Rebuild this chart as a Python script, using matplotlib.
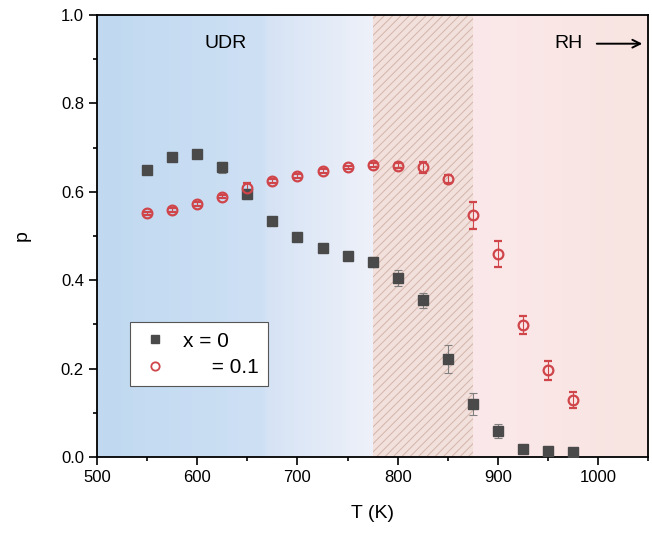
import matplotlib
matplotlib.use('Agg')

import matplotlib.pyplot as plt
import numpy as np
from matplotlib.colors import LinearSegmentedColormap
from matplotlib.lines import Line2D
from matplotlib.ticker import MultipleLocator

plt.rcParams['font.family'] = ['Liberation Sans', 'DejaVu Sans']
plt.rcParams['hatch.linewidth'] = 0.7

# data
temps = [550, 575, 600, 625, 650, 675, 700, 725, 750, 775, 800, 825, 850, 875, 900, 925, 950, 975]
p_x0 = [0.649, 0.678, 0.686, 0.655, 0.595, 0.535, 0.497, 0.472, 0.454, 0.441, 0.406, 0.355,
        0.222, 0.121, 0.060, 0.018, 0.014, 0.011]
err_x0 = [0.005, 0.005, 0.005, 0.012, 0.012, 0.005, 0.005, 0.005, 0.005, 0.012, 0.018, 0.017,
          0.032, 0.025, 0.016, 0.008, 0.006, 0.006]
p_x01 = [0.551, 0.559, 0.572, 0.589, 0.608, 0.625, 0.636, 0.647, 0.655, 0.661, 0.659, 0.655,
         0.629, 0.547, 0.459, 0.298, 0.196, 0.130]
err_x01 = [0.004, 0.004, 0.004, 0.004, 0.012, 0.004, 0.004, 0.004, 0.004, 0.004, 0.006, 0.012,
           0.010, 0.030, 0.030, 0.020, 0.022, 0.018]
labels = ['x = 0', '     = 0.1']

sq_color = '#4a4a4a'
red = '#d0454a'

fig = plt.figure(figsize=(6.52, 5.34), dpi=100)
ax = fig.add_axes([0.149, 0.144, 0.845, 0.828])

# background shading
blue = LinearSegmentedColormap.from_list(
    'b', [(0, '#c0d9f0'), (0.6, '#cee0f4'), (0.62, '#d6e3f5'), (1, '#eef1f9')])
grad = np.linspace(0, 1, 300).reshape(1, -1)
ax.imshow(grad, extent=[500, 775, 0, 1], aspect='auto', cmap=blue, zorder=0)
ax.axvspan(775, 875, facecolor='#f2e0dc', edgecolor='#d3b5aa', hatch='////', lw=0, zorder=0)
pink = LinearSegmentedColormap.from_list('p', ['#fbe8ea', '#f8e4e0'])
ax.imshow(grad, extent=[875, 1050, 0, 1], aspect='auto', cmap=pink, zorder=0)

ax.errorbar(temps, p_x0, yerr=err_x0, fmt='s', color=sq_color, ms=7, ecolor='#808080',
            elinewidth=0.8, capsize=3, capthick=0.8, zorder=3)
ax.errorbar(temps, p_x01, yerr=err_x01, fmt='o', mfc='none', mec=red, mew=1.6, ms=7,
            ecolor=red, elinewidth=0.8, capsize=3, capthick=0.8, zorder=3)

ax.set_xlim(500, 1050)
ax.set_ylim(0, 1.0)
ax.xaxis.set_major_locator(MultipleLocator(100))
ax.xaxis.set_minor_locator(MultipleLocator(50))
ax.yaxis.set_major_locator(MultipleLocator(0.2))
ax.yaxis.set_minor_locator(MultipleLocator(0.1))
ax.yaxis.set_major_formatter(matplotlib.ticker.FormatStrFormatter('%.1f'))
ax.tick_params(which='major', direction='out', length=6, width=1.2, labelsize=12)
ax.tick_params(which='minor', direction='out', length=3, width=1.2)
for s in ax.spines.values():
    s.set_linewidth(1.3)

ax.set_xlabel('T (K)', fontsize=14, labelpad=14)
ax.set_ylabel('p', fontsize=14, labelpad=22)

ax.text(628, 0.935, 'UDR', fontsize=14, ha='center', va='center')
ax.annotate('', xy=(1047, 0.935), xytext=(996, 0.935),
            arrowprops=dict(arrowstyle='->', lw=1.4, color='black', mutation_scale=14))
ax.text(971, 0.935, 'RH', fontsize=14, ha='center', va='center')

handles = [Line2D([], [], ls='none', marker='s', color=sq_color, ms=6),
           Line2D([], [], ls='none', marker='o', mfc='none', mec=red, mew=1.3, ms=6)]
leg = ax.legend(handles, labels, loc='upper left', bbox_to_anchor=(0.06, 0.305), fontsize=15,
                frameon=True, fancybox=False, edgecolor='#555555', framealpha=1,
                handletextpad=0.6, handlelength=1.5, borderpad=0.45, labelspacing=0.35,
                borderaxespad=0)
leg.get_frame().set_linewidth(0.8)

fig.savefig('out.png', dpi=100)
